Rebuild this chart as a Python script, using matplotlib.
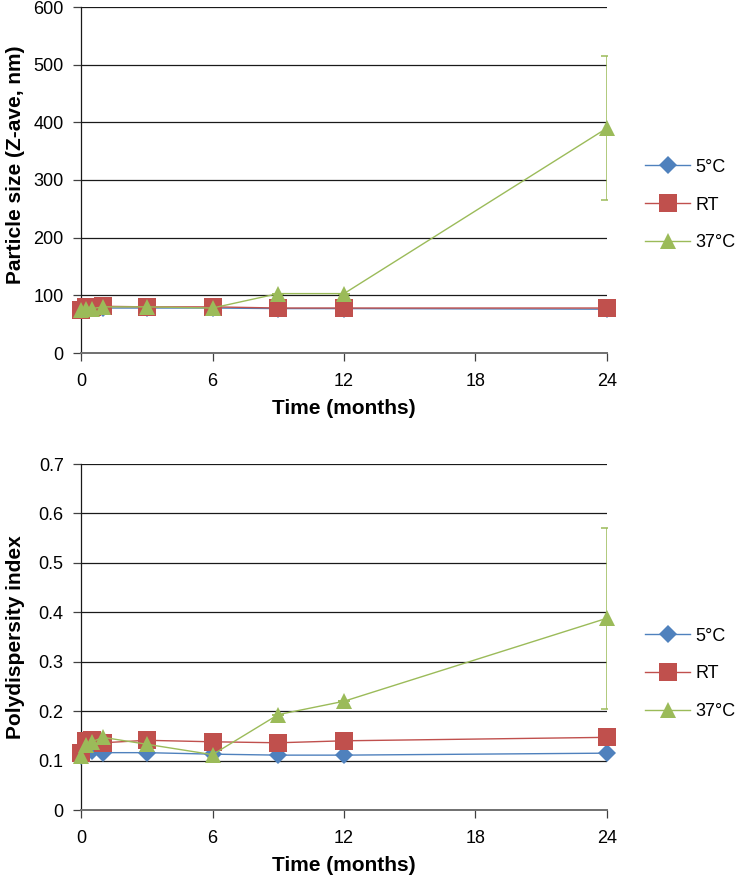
import matplotlib
matplotlib.use("Agg")
import matplotlib.pyplot as plt
import numpy as np

plt.rcParams['font.family'] = ['Liberation Sans', 'DejaVu Sans']

# Zeitpunkte (Monate)
months = [0, 0.25, 0.5, 1, 3, 6, 9, 12, 24]
series_names = ['5°C', 'RT', '37°C']

# Partikelgröße (Z-ave, nm)
size_5c = [76, 77, 78, 78, 78, 78, 77, 77, 76]
size_rt = [75, 80, 80, 81, 80, 80, 78, 78, 78]
size_37c = [74, 76, 77, 80, 80, 78, 103, 103, 390]
size_37c_err = [0, 0, 0, 0, 0, 0, 0, 0, 125]

# Polydispersitätsindex
pdi_5c = [0.110, 0.118, 0.120, 0.116, 0.116, 0.113, 0.111, 0.111, 0.115]
pdi_rt = [0.115, 0.140, 0.142, 0.136, 0.141, 0.138, 0.136, 0.140, 0.147]
pdi_37c = [0.110, 0.131, 0.138, 0.147, 0.133, 0.112, 0.193, 0.220, 0.388]
pdi_37c_err = [0, 0, 0, 0, 0, 0, 0, 0, 0.183]

x_ticks = [0, 6, 12, 18, 24]

colors = ['#4F81BD', '#C0504D', '#9BBB59']
markers = ['D', 's', '^']
msizes = [9.5, 12.5, 12]

fig = plt.figure(figsize=(7.41, 8.8), dpi=100)
# Plotbereiche (Pixel: oben 7-353, unten 464-810; x 81-607)
ax1 = fig.add_axes([81 / 741, 1 - 353 / 880, 526 / 741, 346 / 880])
ax2 = fig.add_axes([81 / 741, 1 - 810 / 880, 526 / 741, 346 / 880])


def style_axes(ax, ymax, ystep, ylabel, yfmt, ylab_y):
    ax.set_xlim(0, 24)
    ax.set_ylim(0, ymax)
    ax.set_xticks(x_ticks)
    yt = np.arange(0, ymax + ystep / 2, ystep)
    ax.set_yticks(yt)
    ax.set_yticklabels([yfmt(v) for v in yt])
    for v in yt[1:]:
        ax.axhline(v, color='#1a1a1a', lw=0.9, zorder=0)
    ax.spines['top'].set_visible(False)
    ax.spines['right'].set_visible(False)
    ax.spines['left'].set_color('#1a1a1a')
    ax.spines['left'].set_linewidth(0.9)
    ax.spines['bottom'].set_color('#707070')
    ax.spines['bottom'].set_linewidth(1.4)
    ax.tick_params(axis='both', direction='out', length=5.5, width=0.9,
                   labelsize=13, color='#404040')
    ax.tick_params(axis='y', pad=7)
    ax.tick_params(axis='x', pad=9)
    ax.set_xlabel('Time (months)', fontsize=15, fontweight='bold')
    ax.xaxis.set_label_coords(0.5, -0.132)
    ax.set_ylabel(ylabel, fontsize=15, fontweight='bold')
    ax.yaxis.set_label_coords(-0.107, ylab_y)


def draw(ax, data, err37):
    handles = []
    for i, (vals, name) in enumerate(zip(data, series_names)):
        if i == 2:
            ax.errorbar(months, vals, yerr=err37, fmt='none', ecolor=colors[i],
                        elinewidth=1.1, capsize=4.5, capthick=1.1, zorder=3)
        h, = ax.plot(months, vals, color=colors[i], lw=1.0, marker=markers[i],
                     markersize=msizes[i], markeredgewidth=0, label=name,
                     zorder=4 + i, clip_on=False)
        handles.append(h)
    return handles


def add_legend(handles, yc):
    fig.legend(handles=handles, labels=series_names,
               loc='center left', bbox_to_anchor=(645 / 741, 1 - yc / 880),
               frameon=False, fontsize=13, labelspacing=1.15,
               handlelength=2.5, handletextpad=0.3, borderpad=0,
               borderaxespad=0)


h1 = draw(ax1, [size_5c, size_rt, size_37c], size_37c_err)
style_axes(ax1, 600, 100, 'Particle size (Z-ave, nm)', lambda v: f'{int(v)}', 0.545)
add_legend(h1, 205)

h2 = draw(ax2, [pdi_5c, pdi_rt, pdi_37c], pdi_37c_err)
style_axes(ax2, 0.7, 0.1, 'Polydispersity index',
           lambda v: '0' if abs(v) < 1e-9 else f'{v:.1f}', 0.5)
add_legend(h2, 674)

fig.savefig('out.png', dpi=100)
